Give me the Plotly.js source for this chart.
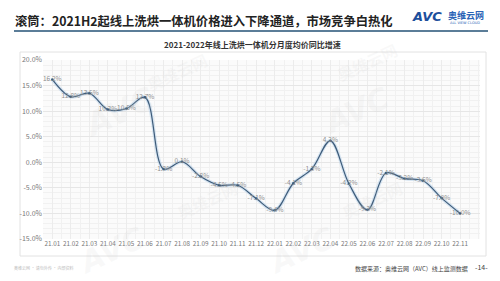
<!DOCTYPE html>
<html><head><meta charset="utf-8">
<script src="https://cdn.plot.ly/plotly-3.0.1.min.js"></script>
<style>html,body{margin:0;padding:0;background:#fff}#c{width:500px;height:281px}</style>
</head><body><div id="c"></div>
<script>
const months = ["21.01","21.02","21.03","21.04","21.05","21.06","21.07","21.08","21.09","21.10","21.11","21.12",
                "22.01","22.02","22.03","22.04","22.05","22.06","22.07","22.08","22.09","22.10","22.11"];
const growth = [16.2,12.8,13.5,10.3,10.5,12.7,-1.3,0.1,-2.8,-4.5,-4.5,-7.1,
                -9.4,-4.1,-1.3,4.2,-4.2,-9.3,-2.1,-3.2,-3.6,-7.0,-10.0];
const labels = growth.map(v => v.toFixed(1) + "%");
const yTicks = [20,15,10,5,0,-5,-10,-15];
const yTickText = yTicks.map(v => v.toFixed(1) + "%");

const W=500,H=281, L=43, R=480, T=60, B=239;
const px = x => (x-L)/(R-L);
const py = y => (B-y)/(B-T);
const idx = months.map((m,i)=>i);
const FONT = "Noto Sans CJK SC, Noto Sans, sans-serif";

const traces = [
  {x: idx, y: growth, type:'scatter', mode:'lines', line:{shape:'spline', smoothing:1, color:'rgba(150,190,225,0.35)', width:3.5}, hoverinfo:'skip', showlegend:false},
  {x: idx, y: growth, type:'scatter', mode:'lines+markers+text', text: labels, textposition:'middle center',
   textfont:{family:FONT, size:6.5, color:'#8f8f8f'},
   line:{shape:'spline', smoothing:1, color:'#3e5c7a', width:1.2},
   marker:{size:2.5, color:'#3e5c7a'}, showlegend:false}
];

function ann(text, x, y, opt) {
  return Object.assign({text:text, x:px(x), y:py(y), xref:'paper', yref:'paper', showarrow:false,
    xanchor:'left', yanchor:'middle', font:{family:FONT, size:8, color:'#333'}}, opt||{});
}
const WM = 'rgba(205,205,205,0.13)';
const annotations = [
  ann("<b>滚筒：2021H2起线上洗烘一体机价格进入下降通道，市场竞争白热化</b>", 13, 21, {font:{family:FONT, size:12.3, color:'#222'}}),
  ann("<b><i>AVC</i></b>", 410, 16, {font:{family:"DejaVu Sans, sans-serif", size:13, color:'#1d4f9c'}}),
  ann("<b>奥维云网</b>", 446, 15, {font:{family:FONT, size:9, color:'#2a64b6'}}),
  ann("ALL VIEW CLOUD", 448, 23, {font:{family:"DejaVu Sans, sans-serif", size:3.5, color:'#2a64b6'}}),
  ann("<b>2021-2022年线上洗烘一体机分月度均价同比增速</b>", 252, 45, {xanchor:'center', font:{family:FONT, size:8, color:'#333'}}),
  ann("数据来源：奥维云网（AVC）线上监测数据", 470, 268, {xanchor:'right', font:{family:FONT, size:6, color:'#444'}}),
  ann("-14-", 473, 267, {font:{family:FONT, size:7, color:'#444'}}),
  ann("奥维云网 · 请勿外传 · 内部资料", 12, 268, {font:{family:FONT, size:4, color:'#bbb'}}),
  ann("<b><i>AVC</i></b>", 75, 112, {textangle:-25, font:{family:"DejaVu Sans, sans-serif", size:32, color:WM}}),
  ann("<b>奥维云网</b>", 140, 72, {textangle:-25, font:{family:FONT, size:16, color:WM}}),
  ann("<b><i>AVC</i></b>", 315, 110, {textangle:-25, font:{family:"DejaVu Sans, sans-serif", size:30, color:WM}}),
  ann("<b>奥维云网</b>", 330, 62, {textangle:-25, font:{family:FONT, size:16, color:WM}}),
  ann("<b><i>AVC</i></b>", 70, 250, {textangle:-25, font:{family:"DejaVu Sans, sans-serif", size:30, color:WM}}),
  ann("<b>奥维云网</b>", 170, 200, {textangle:-25, font:{family:FONT, size:16, color:WM}}),
  ann("<b>奥维云网</b>", 335, 200, {textangle:-25, font:{family:FONT, size:16, color:WM}}),
  ann("<b><i>AVC</i></b>", 260, 250, {textangle:-25, font:{family:"DejaVu Sans, sans-serif", size:30, color:WM}})
];

const shapes = [
  {type:'line', xref:'paper', yref:'paper', x0:px(14), x1:px(488), y0:py(31), y1:py(31), line:{color:'#5b7d98', width:2}},
  {type:'rect', xref:'paper', yref:'paper', x0:px(20), x1:px(486), y0:py(52), y1:py(256), line:{color:'#e2e2e2', width:1}, layer:'below'}
];

const layout = {
  width:W, height:H, margin:{l:L, r:W-R, t:T, b:H-B},
  paper_bgcolor:'#fff', plot_bgcolor:'#fbfbfb',
  font:{family:FONT, size:7, color:'#777'},
  xaxis:{range:[-0.5,23.07], tickvals:idx, ticktext:months, tickangle:0, showgrid:true, gridcolor:'#ececec', gridwidth:1,
         zeroline:false, showline:false, ticks:'', tickfont:{size:6.3, color:'#777'},
         minor:{dtick:0.5, tick0:0.5, showgrid:true, gridcolor:'#f1f1f1'}},
  yaxis:{range:[-15,20], tickvals:yTicks, ticktext:yTickText, showgrid:true, gridcolor:'#e6e6e6',
         zeroline:false, showline:false, ticks:'', tickfont:{size:7, color:'#777'},
         minor:{dtick:1, showgrid:true, gridcolor:'#f1f1f1'}},
  annotations: annotations, shapes: shapes, showlegend:false
};
Plotly.newPlot('c', traces, layout, {staticPlot:true, displayModeBar:false});
</script></body></html>
